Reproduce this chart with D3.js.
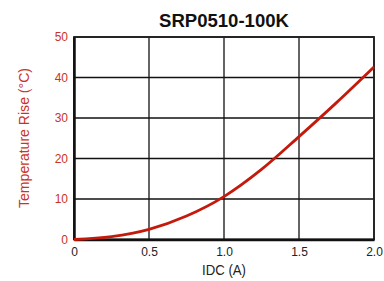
<!DOCTYPE html>
<html>
<head>
<meta charset="utf-8">
<script src="https://cdn.jsdelivr.net/npm/d3@7"></script>
<style>
  body { margin: 0; background: #fff; }
  text { font-family: "Liberation Sans", Arial, sans-serif; }
</style>
</head>
<body>
<svg id="chart" width="384" height="281"></svg>
<script>
const currentA = [0, 0.25, 0.5, 0.75, 1.0, 1.25, 1.5, 1.75, 2.0];
const tempRise = [0, 0.7, 2.5, 5.8, 10.6, 17.3, 25.4, 33.8, 42.6];
const xTicks = [0, 0.5, 1.0, 1.5, 2.0];
const yTicks = [0, 10, 20, 30, 40, 50];

const margin = { top: 37, right: 10, bottom: 41.5, left: 74 },
    width = 384 - margin.left - margin.right,
    height = 281 - margin.top - margin.bottom;

const red = "#cc3322";

const svg = d3.select("#chart");
const g = svg.append("g")
    .attr("transform", `translate(${margin.left},${margin.top})`);

const x = d3.scaleLinear().domain([0, 2]).range([0, width]);
const y = d3.scaleLinear().domain([0, 50]).range([height, 0]);

// grid
g.selectAll(".vgrid")
    .data(xTicks)
    .join("line")
    .attr("x1", d => x(d)).attr("x2", d => x(d))
    .attr("y1", 0).attr("y2", height)
    .attr("stroke", "#111").attr("stroke-width", 1.3);

g.selectAll(".hgrid")
    .data(yTicks)
    .join("line")
    .attr("class", "hgrid")
    .attr("x1", 0).attr("x2", width)
    .attr("y1", d => y(d)).attr("y2", d => y(d))
    .attr("stroke", "#111").attr("stroke-width", 1.3);

g.append("rect")
    .attr("width", width).attr("height", height)
    .attr("fill", "none").attr("stroke", "#222").attr("stroke-width", 1.8);

// axes
const xAxis = g.append("g")
    .attr("transform", `translate(0,${height})`)
    .call(d3.axisBottom(x).tickValues(xTicks).tickSize(0).tickPadding(8)
        .tickFormat(d => d === 0 ? "0" : d3.format(".1f")(d)));
xAxis.select(".domain").attr("stroke", "#111").attr("stroke-width", 2.5);
xAxis.selectAll("text").attr("font-size", 12).attr("fill", "#222")
    .attr("font-family", "'Liberation Sans', sans-serif");

const yAxis = g.append("g")
    .call(d3.axisLeft(y).tickValues(yTicks).tickSize(0).tickPadding(6));
yAxis.select(".domain").attr("stroke", "#111").attr("stroke-width", 2.5);
yAxis.selectAll("text").attr("font-size", 12).attr("fill", red)
    .attr("font-family", "'Liberation Sans', sans-serif");

// curve
const line = d3.line()
    .x((d, i) => x(currentA[i]))
    .y(d => y(d))
    .curve(d3.curveMonotoneX);

g.append("path")
    .datum(tempRise)
    .attr("d", line)
    .attr("fill", "none")
    .attr("stroke", "#c41a0c")
    .attr("stroke-width", 2.8);

// labels
svg.append("text")
    .attr("x", margin.left + width / 2)
    .attr("y", 26.5)
    .attr("text-anchor", "middle")
    .attr("font-size", 19)
    .attr("font-weight", "bold")
    .attr("fill", "#111")
    .attr("textLength", 130)
    .attr("lengthAdjust", "spacingAndGlyphs")
    .text("SRP0510-100K");

svg.append("text")
    .attr("x", margin.left + width / 2)
    .attr("y", 275)
    .attr("text-anchor", "middle")
    .attr("font-size", 15)
    .attr("fill", "#222")
    .attr("textLength", 44)
    .attr("lengthAdjust", "spacingAndGlyphs")
    .text("IDC (A)");

svg.append("text")
    .attr("transform", `translate(29,138) rotate(-90)`)
    .attr("text-anchor", "middle")
    .attr("font-size", 15.5)
    .attr("fill", red)
    .attr("textLength", 140)
    .attr("lengthAdjust", "spacingAndGlyphs")
    .text("Temperature Rise (°C)");
</script>
</body>
</html>
